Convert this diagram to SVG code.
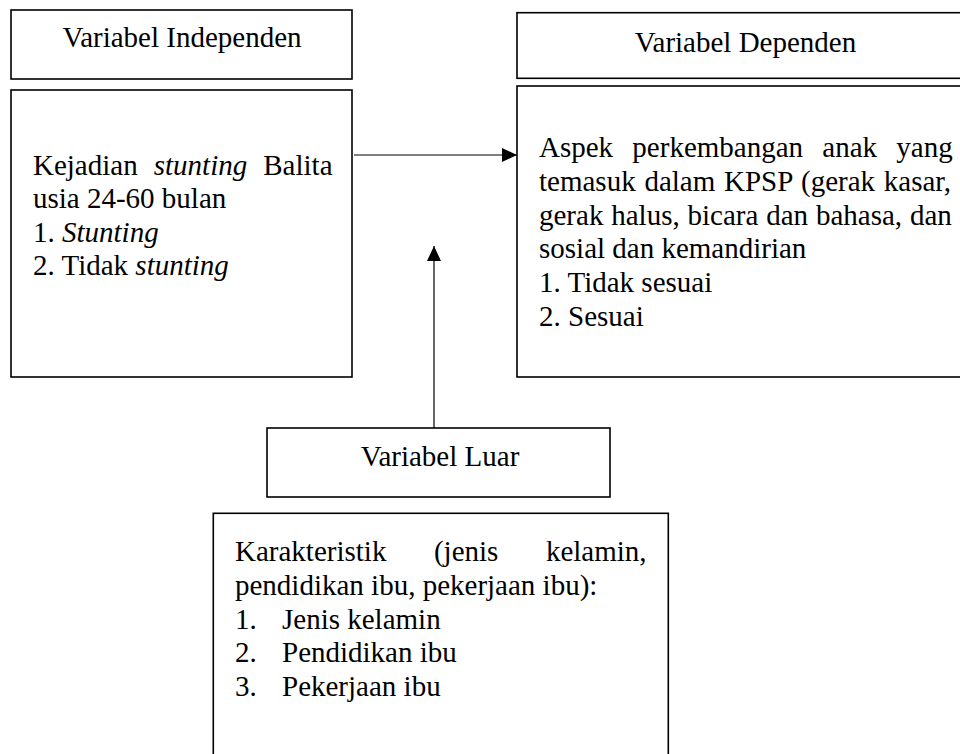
<svg xmlns="http://www.w3.org/2000/svg" width="960" height="754" viewBox="0 0 960 754">
<style>
  .box { fill: #ffffff; stroke: #000000; stroke-width: 1.6; }
  .t { font-family: "Liberation Serif", "Times New Roman", serif; font-size: 29px; fill: #000000; }
  .c { text-anchor: middle; }
  .i { font-style: italic; }
  .conn { stroke: #000000; stroke-width: 1.2; fill: none; }
</style>
<defs>
  <marker id="arrow" markerWidth="16" markerHeight="14" refX="15" refY="7" orient="auto" markerUnits="userSpaceOnUse">
    <path d="M0,0 L15,7 L0,14 Z" fill="#000000"/>
  </marker>
</defs>
<rect width="960" height="754" fill="#ffffff"/>

<g id="independen-header">
  <rect class="box" x="11" y="10" width="341" height="69"/>
  <text class="t c" x="182" y="47">Variabel Independen</text>
</g>

<g id="independen">
  <rect class="box" x="11" y="90" width="341" height="287"/>
  <text class="t" x="33" y="174.5" word-spacing="8.8">Kejadian <tspan class="i">stunting</tspan> Balita</text>
  <text class="t" x="33" y="208">usia 24-60 bulan</text>
  <text class="t" x="33" y="241.5">1. <tspan class="i">Stunting</tspan></text>
  <text class="t" x="33" y="275">2. Tidak <tspan class="i">stunting</tspan></text>
</g>

<g id="dependen-header">
  <rect class="box" x="517" y="12.7" width="460" height="65.6"/>
  <text class="t c" x="745.5" y="52">Variabel Dependen</text>
</g>

<g id="dependen">
  <rect class="box" x="517" y="86" width="460" height="291"/>
  <text class="t" x="539" y="157.3" word-spacing="12">Aspek perkembangan anak yang</text>
  <text class="t" x="539" y="191" word-spacing="1.5">temasuk dalam KPSP (gerak kasar,</text>
  <text class="t" x="539" y="224.7" word-spacing="0.6">gerak halus, bicara dan bahasa, dan</text>
  <text class="t" x="539" y="258.4">sosial dan kemandirian</text>
  <text class="t" x="539" y="292">1. Tidak sesuai</text>
  <text class="t" x="539" y="325.7">2. Sesuai</text>
</g>

<g id="luar-header">
  <rect class="box" x="267" y="428" width="343" height="69"/>
  <text class="t c" x="440" y="466">Variabel Luar</text>
</g>

<g id="luar">
  <rect class="box" x="213.3" y="513.3" width="455" height="260"/>
  <text class="t" x="235" y="561" word-spacing="40.3">Karakteristik (jenis kelamin,</text>
  <text class="t" x="235" y="595">pendidikan ibu, pekerjaan ibu):</text>
  <text class="t" x="235" y="628.5">1.</text>
  <text class="t" x="282" y="628.5">Jenis kelamin</text>
  <text class="t" x="235" y="662">2.</text>
  <text class="t" x="282" y="662">Pendidikan ibu</text>
  <text class="t" x="235" y="695.5">3.</text>
  <text class="t" x="282" y="695.5">Pekerjaan ibu</text>
</g>

<g id="connectors">
  <line class="conn" x1="354" y1="155" x2="517" y2="155" marker-end="url(#arrow)"/>
  <line class="conn" x1="434" y1="428" x2="434" y2="246" marker-end="url(#arrow)"/>
</g>
</svg>
